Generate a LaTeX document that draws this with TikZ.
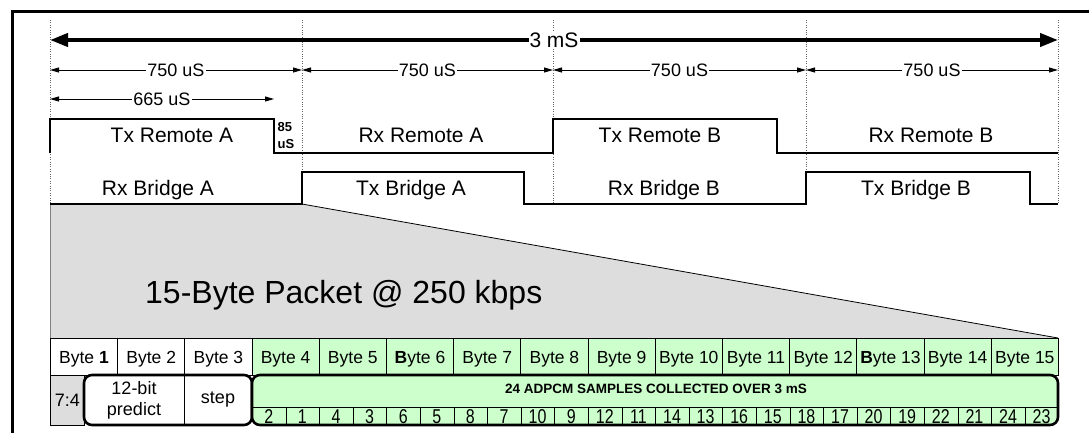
\documentclass[tikz,border=0pt]{standalone}
\usepackage{fontspec}
\usepackage{graphicx}
\setmainfont{Liberation Sans}
\usetikzlibrary{arrows.meta}
\definecolor{grn}{HTML}{CCFFCC}
\definecolor{gry}{HTML}{DDDDDD}
\definecolor{dots}{HTML}{666666}
\newcommand{\numfont}{\fontsize{20}{22}\selectfont}
\begin{document}
\begin{tikzpicture}[x=1pt,y=-1pt,
  wave/.style={line width=1.6pt, line join=miter},
  dimarrow/.style={line width=0.9pt, {Triangle[length=9pt,width=5pt]}-{Triangle[length=9pt,width=5pt]}},
  bigarrow/.style={line width=4pt, {Triangle[length=18pt,width=13pt]}-{Triangle[length=18pt,width=13pt]}},
  guide/.style={draw=dots, line width=0.7pt, dash pattern=on 1pt off 1.4pt},
  siglbl/.style={font=\fontsize{21}{25}\selectfont, anchor=base, inner sep=0pt},
  dimlbl/.style={font=\fontsize{18}{21}\selectfont, fill=white, inner sep=1pt},
  bytecell/.style={draw, line width=0.8pt, minimum width=67.2pt, minimum height=37pt, inner sep=0pt, anchor=north west, font=\fontsize{17.5}{20}\selectfont, text height=12.5pt, text depth=0pt},
  numcell/.style={draw, line width=0.8pt, minimum width=33.6pt, minimum height=18pt, inner sep=0pt, anchor=north west},
  numtxt/.style={inner sep=0pt, anchor=base},
  thickbox/.style={line width=2.6pt, rounded corners=8pt},
  plain/.style={font=\fontsize{18}{21}\selectfont, inner sep=0pt}
]
\useasboundingbox (0,0) rectangle (1089,432);
\clip (0,0) rectangle (1089,432);

% outer frame (only top and left edges visible)
\draw[line width=3.5pt] (12.5,11.5) rectangle (1120,470);

% guide coordinates
\foreach \x/\n in {50/a,302/b,553/c,806/d,1058/e} {
  \coordinate (t\n) at (\x,20);
  \coordinate (g\n) at (\x,204);
  \coordinate (d\n) at (\x,70);
}

% grey fan-out trapezoid
\coordinate (fanA) at (50,338);
\coordinate (fanB) at (1058,338);
\fill[gry] (ga) -- (gb) -- (fanB) -- (fanA) -- cycle;
\draw[gray, line width=0.8pt] (ga) -- (fanA);
\draw[line width=0.8pt] (gb) -- (fanB);

% dotted guides
\foreach \n in {a,b,c,d,e} { \draw[guide] (t\n) -- (g\n); }

% 3 mS arrow
\coordinate (sa) at (50,40);
\coordinate (se) at (1058,40);
\draw[bigarrow] (sa) -- (se) node[midway, fill=white, inner sep=1pt, font=\fontsize{21}{25}\selectfont] (lbl3ms) {3 mS};

% 750 uS arrows
\draw[dimarrow] (da) -- (db) node[midway, dimlbl] (l1) {750 uS};
\draw[dimarrow] (db) -- (dc) node[midway, dimlbl] (l2) {750 uS};
\draw[dimarrow] (dc) -- (dd) node[midway, dimlbl] (l3) {750 uS};
\draw[dimarrow] (dd) -- (de) node[midway, dimlbl] (l4) {750 uS};

% 665 uS arrow
\coordinate (ha) at (50,99);
\coordinate (hb) at (274,99);
\draw[dimarrow] (ha) -- (hb) node[midway, dimlbl] (l665) {665 uS};

% remote waveform
\draw[wave] (50,153) -- (50,119) -- (274,119) -- (274,153) -- (553,153) -- (553,119) -- (777,119) -- (777,153) -- (1058,153);
% bridge waveform
\draw[wave] (50,204) -- (302,204) -- (302,172) -- (524,172) -- (524,204) -- (806,204) -- (806,172) -- (1030,172) -- (1030,204) -- (1058,204);

\node[siglbl] (txa) at (172,142) {Tx Remote A};
\node[siglbl] (rxa) at (421,142) {Rx Remote A};
\node[siglbl] (txb) at (660,142) {Tx Remote B};
\node[siglbl] (rxb) at (931,142) {Rx Remote B};
\node[siglbl] (brxa) at (158,195) {Rx Bridge A};
\node[siglbl] (btxa) at (411,195) {Tx Bridge A};
\node[siglbl] (brxb) at (664,195) {Rx Bridge B};
\node[siglbl] (btxb) at (916,195) {Tx Bridge B};

\node[anchor=base west, inner sep=0pt] (gap85) at (277.5,131) {\fontsize{13}{16}\selectfont\bfseries 85};
\node[anchor=base west, inner sep=0pt] (gapus) at (277.5,148) {\fontsize{13}{16}\selectfont\bfseries uS};

% title
\node[anchor=base west, inner sep=0pt, font=\fontsize{32}{37}\selectfont] (title) at (145,303) {15-Byte Packet @ 250 kbps};

% byte row
\foreach \i/\t/\c in {1/{Byte \textbf{1}}/white, 2/Byte 2/white, 3/Byte 3/white, 4/Byte 4/grn, 5/Byte 5/grn, 6/{\textbf{B}yte 6}/grn, 7/Byte 7/grn, 8/Byte 8/grn, 9/Byte 9/grn, 10/Byte 10/grn, 11/Byte 11/grn, 12/Byte 12/grn, 13/{\textbf{B}yte 13}/grn, 14/Byte 14/grn, 15/Byte 15/grn} {
  \node[bytecell, fill=\c] (byte\i) at ({50+(\i-1)*67.2},338) {\t};
}

% 7:4 cell
\node[draw, line width=0.8pt, fill=gry, minimum width=34pt, minimum height=50pt, anchor=north west, inner sep=0pt, font=\fontsize{18}{21}\selectfont] (c74) at (50,375) {7:4};

% header box (12-bit predict, step)
\fill[white, thickbox] (84,375) rectangle (252,425);
\coordinate (divT) at (184.4,375);
\coordinate (divB) at (184.4,425);
\draw[line width=0.8pt] (divT) -- (divB);
\node[plain, align=center, font=\fontsize{18}{21}\selectfont] (pred) at (134,400.5) {12-bit\\predict};
\node[plain] (stp) at (218,400) {step};
\draw[thickbox] (84,375) rectangle (252,425);

% samples box
\fill[grn, thickbox] (252,375) rectangle (1058,425);
\begin{scope}
  \clip[rounded corners=8pt] (252,375) rectangle (1058,425);
  \foreach \j in {1,...,12} {
    \pgfmathtruncatemacro\na{2*\j}
    \pgfmathtruncatemacro\nb{2*\j-1}
    \node[numcell] (n\na) at ({252+(\j-1)*67.2},407) {};
    \node[numcell] (n\nb) at ({252+(\j-1)*67.2+33.6},407) {};
    \node[numtxt] (t\na) at ({252+(\j-1)*67.2+16.8},423) {\numfont\scalebox{0.8}[1]{\numfont\na}};
    \node[numtxt] (t\nb) at ({252+(\j-1)*67.2+50.4},423) {\numfont\scalebox{0.8}[1]{\numfont\nb}};
  }
\end{scope}
\node[inner sep=0pt, font=\fontsize{13.5}{16}\selectfont\bfseries] (samp) at (656,389) {24 ADPCM SAMPLES COLLECTED OVER 3 mS};
\draw[thickbox] (252,375) rectangle (1058,425);
\end{tikzpicture}
\end{document}
